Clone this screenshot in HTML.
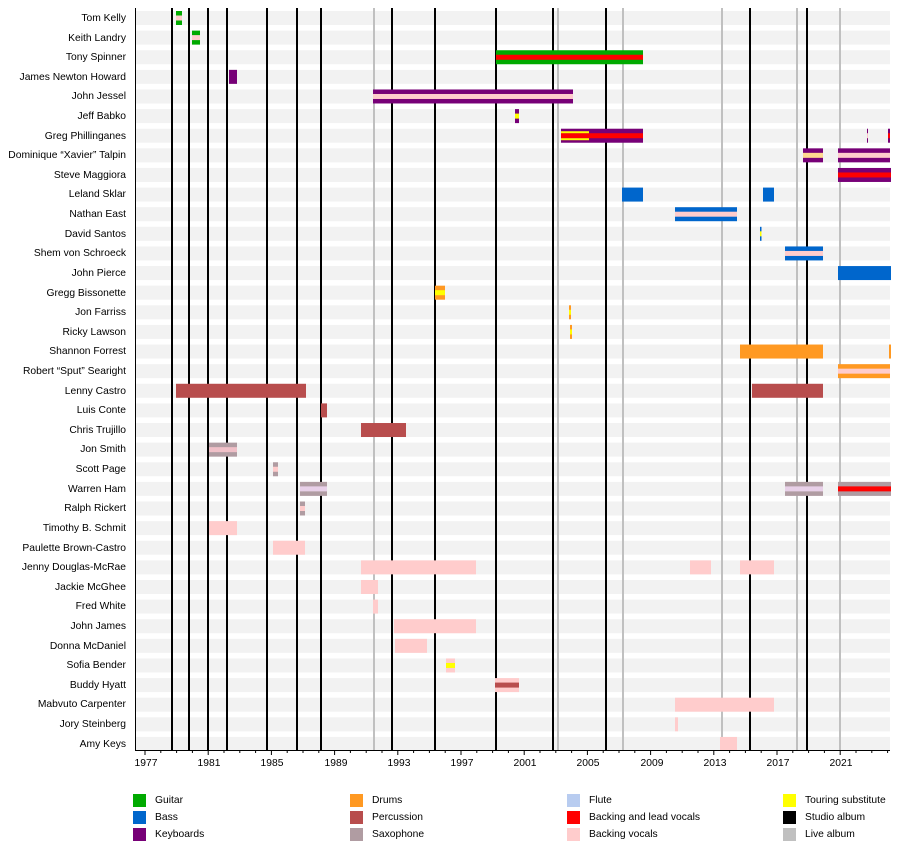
<!DOCTYPE html>
<html><head><meta charset="utf-8">
<style>
body{margin:0;background:#fff;width:900px;height:850px;overflow:hidden;font-family:"Liberation Sans",sans-serif;}
#c{position:relative;width:900px;height:850px;}
.n{position:absolute;right:774px;font-size:10.3px;color:#000;white-space:nowrap;line-height:12px;margin-top:1px;}
.t{position:absolute;top:758px;font-size:10.3px;width:40px;margin-left:-19px;text-align:center;}
.lg{position:absolute;font-size:10.3px;margin-top:1px;}
.lg i{position:absolute;left:0;top:0;width:13px;height:13px;}
.lg span{position:absolute;left:22px;top:1px;white-space:nowrap;}
</style></head><body><div id="c">
<svg id="s" width="900" height="850" style="position:absolute;left:0;top:0"></svg>
<div class="n" style="top:12px">Tom Kelly</div>
<div class="n" style="top:32px">Keith Landry</div>
<div class="n" style="top:51px">Tony Spinner</div>
<div class="n" style="top:71px">James Newton Howard</div>
<div class="n" style="top:90px">John Jessel</div>
<div class="n" style="top:110px">Jeff Babko</div>
<div class="n" style="top:130px">Greg Phillinganes</div>
<div class="n" style="top:149px">Dominique “Xavier” Talpin</div>
<div class="n" style="top:169px">Steve Maggiora</div>
<div class="n" style="top:188px">Leland Sklar</div>
<div class="n" style="top:208px">Nathan East</div>
<div class="n" style="top:228px">David Santos</div>
<div class="n" style="top:247px">Shem von Schroeck</div>
<div class="n" style="top:267px">John Pierce</div>
<div class="n" style="top:287px">Gregg Bissonette</div>
<div class="n" style="top:306px">Jon Farriss</div>
<div class="n" style="top:326px">Ricky Lawson</div>
<div class="n" style="top:345px">Shannon Forrest</div>
<div class="n" style="top:365px">Robert “Sput” Searight</div>
<div class="n" style="top:385px">Lenny Castro</div>
<div class="n" style="top:404px">Luis Conte</div>
<div class="n" style="top:424px">Chris Trujillo</div>
<div class="n" style="top:443px">Jon Smith</div>
<div class="n" style="top:463px">Scott Page</div>
<div class="n" style="top:483px">Warren Ham</div>
<div class="n" style="top:502px">Ralph Rickert</div>
<div class="n" style="top:522px">Timothy B. Schmit</div>
<div class="n" style="top:542px">Paulette Brown-Castro</div>
<div class="n" style="top:561px">Jenny Douglas-McRae</div>
<div class="n" style="top:581px">Jackie McGhee</div>
<div class="n" style="top:600px">Fred White</div>
<div class="n" style="top:620px">John James</div>
<div class="n" style="top:640px">Donna McDaniel</div>
<div class="n" style="top:659px">Sofia Bender</div>
<div class="n" style="top:679px">Buddy Hyatt</div>
<div class="n" style="top:698px">Mabvuto Carpenter</div>
<div class="n" style="top:718px">Jory Steinberg</div>
<div class="n" style="top:738px">Amy Keys</div>
<div class="t" style="left:145px">1977</div>
<div class="t" style="left:208px">1981</div>
<div class="t" style="left:271px">1985</div>
<div class="t" style="left:335px">1989</div>
<div class="t" style="left:398px">1993</div>
<div class="t" style="left:461px">1997</div>
<div class="t" style="left:524px">2001</div>
<div class="t" style="left:587px">2005</div>
<div class="t" style="left:651px">2009</div>
<div class="t" style="left:714px">2013</div>
<div class="t" style="left:777px">2017</div>
<div class="t" style="left:840px">2021</div>
<div class="lg" style="left:133px;top:793px"><i style="background:#00aa00"></i><span>Guitar</span></div>
<div class="lg" style="left:133px;top:810px"><i style="background:#0066cc"></i><span>Bass</span></div>
<div class="lg" style="left:133px;top:827px"><i style="background:#770077"></i><span>Keyboards</span></div>
<div class="lg" style="left:350px;top:793px"><i style="background:#ff9922"></i><span>Drums</span></div>
<div class="lg" style="left:350px;top:810px"><i style="background:#b84d4d"></i><span>Percussion</span></div>
<div class="lg" style="left:350px;top:827px"><i style="background:#b09ca2"></i><span>Saxophone</span></div>
<div class="lg" style="left:567px;top:793px"><i style="background:#b8ccf0"></i><span>Flute</span></div>
<div class="lg" style="left:567px;top:810px"><i style="background:#ff0000"></i><span>Backing and lead vocals</span></div>
<div class="lg" style="left:567px;top:827px"><i style="background:#ffcccc"></i><span>Backing vocals</span></div>
<div class="lg" style="left:783px;top:793px"><i style="background:#ffff00"></i><span>Touring substitute</span></div>
<div class="lg" style="left:783px;top:810px"><i style="background:#000"></i><span>Studio album</span></div>
<div class="lg" style="left:783px;top:827px"><i style="background:#c0c0c0"></i><span>Live album</span></div>
</div>
<script>
var s=document.getElementById('s'),h='';
function r(x,y,w,hh,c){h+='<rect x="'+x+'" y="'+y+'" width="'+w+'" height="'+hh+'" fill="'+c+'"/>';}
for(var i=0;i<38;i++){var cy=18+i*19.62;r(135,cy-7,755,14,'#f2f2f2');}
var live=[374,558,623,722,797,840],st=[172,189,208,227,267,297,321,392,435,496,553,606,750,807];
live.forEach(function(x){r(x-1,8,2,742,'#c0c0c0');});
st.forEach(function(x){r(x-1,8,2,742,'#000');});
var G='#00aa00',B='#0066cc',K='#770077',D='#ff9922',P='#b84d4d',S='#b09ca2',R='#ff0000',V='#ffcccc',Y='#ffff00';
var bars=[
[0,176,182,G,V],[1,192,200,G,V],[2,496,643,G,R],[3,229,237,K],[4,373,573,K,V],[5,515,519,K,Y],
[6,561,589,K,R,Y],[6,589,643,K,R],[6,867,868,K,V],[6,888,890,K,R],
[7,803,823,K,'#ffd890'],[7,838,890,K,V],[8,838,891,K,R],
[9,622,643,B],[9,763,774,B],[10,675,737,B,V],[11,760,761.5,B,Y],[12,785,823,B,V],[13,838,891,B],
[14,435,445,D,Y],[15,569,571,D,Y],[16,570,572,D,Y],[17,740,823,D],[17,889,891,D],[18,838,890,D,V],
[19,176,306,P],[19,752,823,P],[20,321,327,P],[21,361,406,P],
[22,209,237,S,'#f0c0c8'],[23,273,278,S,V],[24,300,327,S,'#e8d0e8'],[24,785,823,S,'#e8d0e8'],[24,838,891,S,R],[25,300,305,S,V],
[26,209,237,V],[27,273,305,V],[28,361,476,V],[28,690,711,V],[28,740,774,V],[29,361,378,V],[30,373,378,V],
[31,394,476,V],[32,395,427,V],[33,446,455,V,Y],[34,495,519,V,P],[35,675,774,V],[36,675,678,V],[37,720,737,V]];
bars.forEach(function(b){var cy=18+b[0]*19.62,y=cy-7,w=b[2]-b[1];r(b[1],y,w,14,b[3]);
 if(b[4]){r(b[1],cy-2.5,w,5,b[4]);}
 if(b[5]){r(b[1],cy-4.5,w,2,b[5]);r(b[1],cy+2.5,w,2,b[5]);}
});
r(135,8,1,743,'#000');r(135,750,755,1,'#000');
for(var yr=1977;yr<=2024;yr++){var x=145+(yr-1977)*15.8;var mj=(yr-1977)%4==0;r(x-0.5,750,1,mj?5:3,'#000');}
s.innerHTML=h;
</script>
</body></html>
